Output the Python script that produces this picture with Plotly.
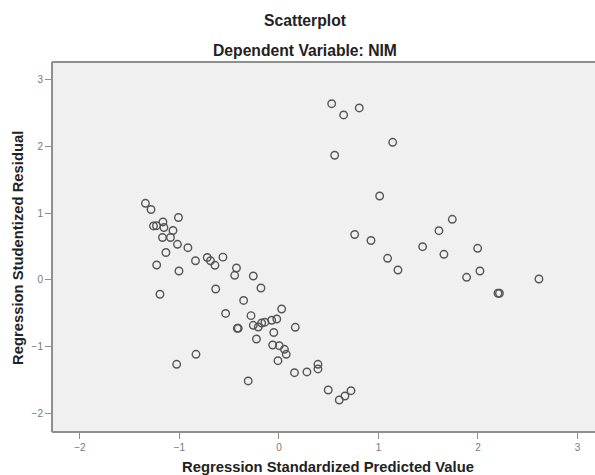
import plotly.graph_objects as go

# Regression Standardized Predicted Value (x) and Regression Studentized Residual (y)
predicted = [
    -1.342, -1.286, -1.261, -1.231, -1.166, -1.156, -1.065, -1.171, -1.090, -1.010,
    -1.020, -0.915, -1.136, -1.229, -1.005, -0.839, -0.721, -0.688, -0.643, -0.563,
    -0.427, -0.445, -0.636, -0.258, -0.181, -1.196, -0.355, -0.536, -0.281, 0.027,
    -0.419, -0.409, -0.258, -0.208, -0.174, -0.141, -0.073, -0.022, 0.164, -0.052,
    -0.226, -0.063, 0.003, 0.055, 0.073, -0.010, 0.156, 0.281, 0.392, 0.392,
    -0.834, -1.028, -0.309, 0.495, 0.606, 0.663, 0.724,
    0.530, 0.650, 0.807, 1.143, 0.560, 1.012, 0.761, 0.925, 1.092, 1.196,
    1.444, 1.608, 1.742, 1.658, 1.997, 1.886, 2.020, 2.201, 2.216, 2.613,
]
residual = [
    1.150, 1.057, 0.810, 0.814, 0.870, 0.787, 0.742, 0.637, 0.637, 0.937,
    0.535, 0.484, 0.412, 0.225, 0.135, 0.288, 0.337, 0.288, 0.220, 0.342,
    0.180, 0.070, -0.135, 0.060, -0.120, -0.214, -0.307, -0.502, -0.535, -0.435,
    -0.724, -0.724, -0.679, -0.705, -0.645, -0.633, -0.604, -0.585, -0.709, -0.787,
    -0.885, -0.975, -0.985, -1.039, -1.114, -1.210, -1.390, -1.379, -1.264, -1.334,
    -1.114, -1.264, -1.514, -1.649, -1.799, -1.739, -1.660,
    2.643, 2.474, 2.579, 2.064, 1.870, 1.259, 0.682, 0.592, 0.325, 0.150,
    0.499, 0.739, 0.910, 0.385, 0.475, 0.040, 0.135, -0.199, -0.199, 0.015,
]

title_main = "Scatterplot"
title_sub = "Dependent Variable: NIM"
x_title = "Regression Standardized Predicted Value"
y_title = "Regression Studentized Residual"
tick_vals = [-2, -1, 0, 1, 2, 3]

FONT = "Liberation Sans, Arial, sans-serif"
FRAME = "#8f8f8f"

# plot frame runs to the right edge of the window
W, H = 595, 475
L, T, B = 52, 62, 43
plot_w = W - L

def px_x(p):
    return (p - L) / plot_w

def px_y(p):
    return (H - B - p) / (H - T - B)

fig = go.Figure()
fig.add_trace(go.Scatter(
    x=predicted, y=residual, mode="markers",
    marker=dict(symbol="circle-open", size=7.5, color="#555555", line=dict(width=1.4)),
    hoverinfo="x+y", showlegend=False,
))

frame = [
    dict(type="line", xref="paper", yref="paper", x0=0, x1=1, y0=1, y1=1,
         line=dict(color=FRAME, width=2)),
    dict(type="line", xref="paper", yref="paper", x0=0, x1=1, y0=0, y1=0,
         line=dict(color=FRAME, width=2)),
    dict(type="line", xref="paper", yref="paper", x0=0, x1=0, y0=0, y1=1,
         line=dict(color=FRAME, width=2)),
]

fig.update_layout(
    width=W, height=H,
    margin=dict(l=L, r=0, t=T, b=B),
    paper_bgcolor="white",
    plot_bgcolor="#f0f0f0",
    font=dict(family=FONT, color="#222"),
    shapes=frame,
    xaxis=dict(
        range=[-2.281, -2.281 + plot_w / 99.5], tickvals=tick_vals, showgrid=False, zeroline=False,
        showline=False, ticks="outside", ticklen=6, tickcolor=FRAME, tickwidth=1,
        tickfont=dict(size=10, color="#777"),
    ),
    yaxis=dict(
        range=[-2.279, 3.268], tickvals=tick_vals, showgrid=False, zeroline=False,
        showline=False, ticks="outside", ticklen=6, tickcolor=FRAME, tickwidth=1,
        tickfont=dict(size=10, color="#777"),
    ),
    annotations=[
        dict(text="<b>%s</b>" % title_main, xref="paper", yref="paper",
             x=px_x(305), y=px_y(20), xanchor="center", yanchor="middle",
             showarrow=False, font=dict(size=15.7, color="#222", family=FONT)),
        dict(text="<b>%s</b>" % title_sub, xref="paper", yref="paper",
             x=px_x(305), y=px_y(50), xanchor="center", yanchor="middle",
             showarrow=False, font=dict(size=15.7, color="#222", family=FONT)),
        dict(text="<b>%s</b>" % x_title, xref="paper", yref="paper",
             x=px_x(328), y=px_y(467), xanchor="center", yanchor="middle",
             showarrow=False, font=dict(size=14.8, color="#222", family=FONT)),
        dict(text="<b>%s</b>" % y_title, xref="paper", yref="paper",
             x=px_x(18), y=px_y(248), xanchor="center", yanchor="middle", textangle=-90,
             showarrow=False, font=dict(size=14.8, color="#222", family=FONT)),
    ],
)

fig.write_html("out.html",
               config={"displayModeBar": False},
               post_script=("var s=document.createElement('style');"
                            "s.textContent='html,body{margin:0;padding:0;overflow:hidden;scrollbar-width:none}"
                            "::-webkit-scrollbar{display:none;width:0;height:0}';"
                            "document.head.appendChild(s);"))
